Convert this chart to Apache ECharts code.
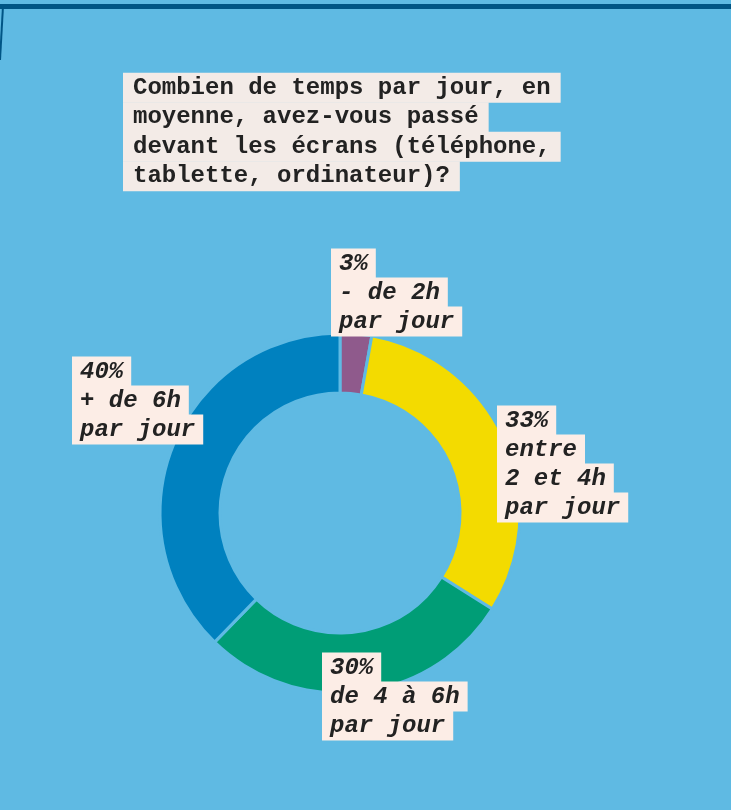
<!DOCTYPE html>
<html>
<head>
<meta charset="utf-8">
<script src="https://cdn.jsdelivr.net/npm/echarts@6/dist/echarts.min.js"></script>
<style>
  html, body { margin: 0; padding: 0; background: #5fbae3; }
  #chart { width: 731px; height: 810px; }
</style>
</head>
<body>
<div id="chart"></div>
<script>
const titleLines = [
  "Combien de temps par jour, en",
  "moyenne, avez-vous passé",
  "devant les écrans (téléphone,",
  "tablette, ordinateur)?"
];

const categories = ["- de 2h\npar jour", "entre\n2 et 4h\npar jour", "de 4 à 6h\npar jour", "+ de 6h\npar jour"];
const values = [3, 33, 30, 40];
const colors = ["#8f5a8c", "#f3db00", "#009d76", "#0081bf"];

// where each label block sits (top-left of the text)
const labelSpots = [
  { x: 331, y: 249 },
  { x: 497, y: 406 },
  { x: 322, y: 653 },
  { x: 72, y: 357 }
];

const font = "'Liberation Mono', 'DejaVu Sans Mono', monospace";

const chart = echarts.init(document.getElementById("chart"));

chart.setOption({
  backgroundColor: "#5fbae3",
  animation: false,
  title: {
    text: titleLines.map((l) => `{t|${l}}`).join("\n"),
    left: 118,
    top: 68,
    textStyle: {
      rich: {
        t: {
          fontFamily: font,
          fontWeight: "bold",
          fontSize: 24,
          color: "#222",
          lineHeight: 29.5,
          backgroundColor: "#f3ebe7",
          padding: [3, 10, 3, 10]
        }
      }
    }
  },
  graphic: [
    {
      type: "polyline",
      shape: { points: [[0, 6.5], [731, 6.5]] },
      style: { stroke: "#005585", lineWidth: 5 }
    },
    {
      type: "polyline",
      shape: { points: [[3, 6], [0, 60]] },
      style: { stroke: "#005585", lineWidth: 2 }
    }
  ],
  series: [
    {
      type: "pie",
      center: [340, 513],
      radius: [120, 180],
      startAngle: 90,
      clockwise: true,
      itemStyle: { borderColor: "#5fbae3", borderWidth: 3 },
      labelLine: { show: false },
      label: {
        show: true,
        overflow: "none",
        formatter(p) {
          const rest = categories[p.dataIndex].split("\n").map((l) => `{b|${l}}`).join("\n");
          return `{b|${values[p.dataIndex]}%}\n${rest}`;
        },
        rich: {
          b: {
            fontFamily: font,
            fontWeight: "bold",
            fontStyle: "italic",
            fontSize: 24,
            color: "#222",
            lineHeight: 29,
            backgroundColor: "#fcede6",
            padding: [3, 8, 3, 8]
          }
        }
      },
      labelLayout(params) {
        const s = labelSpots[params.dataIndex];
        return { x: s.x, y: s.y, align: "left", verticalAlign: "top" };
      },
      data: values.map((v, i) => ({
        name: categories[i],
        value: v,
        itemStyle: { color: colors[i] }
      }))
    }
  ]
});
</script>
</body>
</html>
